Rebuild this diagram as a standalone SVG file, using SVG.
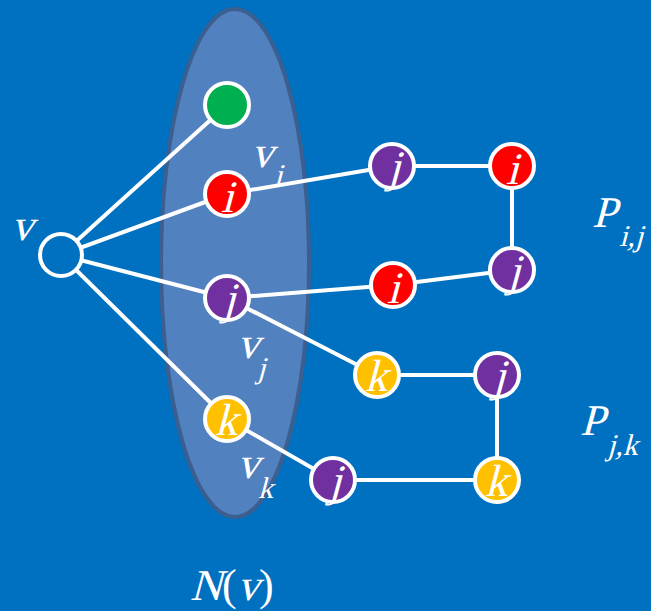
<svg xmlns="http://www.w3.org/2000/svg" width="651" height="611" viewBox="0 0 651 611">
<style>
.e{stroke:#fff;stroke-width:4;fill:none}
.n{stroke:#fff;stroke-width:4}
text{font-family:"Liberation Serif","Times New Roman",serif;fill:#fff}
.nl{font-size:45px;text-anchor:middle}
.big{font-size:44px}
.sub{font-size:30px}
</style>
<rect width="651" height="611" fill="#0070C0"/>
<ellipse id="Nv" cx="235" cy="263" rx="74" ry="254" fill="#5281C0" stroke="#3B5F8F" stroke-width="4"/>
<g id="connectors">
<line class="e" x1="61" y1="255" x2="227" y2="105"/>
<line class="e" x1="61" y1="255" x2="227" y2="194"/>
<line class="e" x1="61" y1="255" x2="227" y2="298"/>
<line class="e" x1="61" y1="255" x2="227" y2="419"/>
<line class="e" x1="227" y1="194" x2="392" y2="166"/>
<line class="e" x1="392" y1="166" x2="512" y2="166"/>
<line class="e" x1="512" y1="166" x2="512" y2="270"/>
<line class="e" x1="512" y1="270" x2="393" y2="285"/>
<line class="e" x1="393" y1="285" x2="227" y2="298"/>
<line class="e" x1="227" y1="298" x2="377" y2="375"/>
<line class="e" x1="377" y1="375" x2="497" y2="375"/>
<line class="e" x1="497" y1="375" x2="497" y2="480"/>
<line class="e" x1="497" y1="480" x2="333" y2="480"/>
<line class="e" x1="333" y1="480" x2="227" y2="419"/>
</g>
<g id="v"><circle class="n" cx="61" cy="255" r="21" fill="#0070C0"/></g>
<g id="g1"><circle class="n" cx="227" cy="105" r="22" fill="#00B050"/></g>
<g id="vi"><circle class="n" cx="227" cy="194" r="22" fill="#FF0000"/><text class="nl" transform="translate(227,212) skewX(-15)">i</text></g>
<g id="vj"><circle class="n" cx="227" cy="298" r="22" fill="#7030A0"/><text class="nl" transform="translate(229,314) skewX(-15)">j</text></g>
<g id="vk"><circle class="n" cx="227" cy="419" r="22" fill="#FFC000"/><text class="nl" transform="translate(226,435) skewX(-15)">k</text></g>
<g id="a1"><circle class="n" cx="392" cy="166" r="22" fill="#7030A0"/><text class="nl" transform="translate(394,182) skewX(-15)">j</text></g>
<g id="a2"><circle class="n" cx="512" cy="166" r="22" fill="#FF0000"/><text class="nl" transform="translate(512,184) skewX(-15)">i</text></g>
<g id="a3"><circle class="n" cx="512" cy="270" r="22" fill="#7030A0"/><text class="nl" transform="translate(514,286) skewX(-15)">j</text></g>
<g id="a4"><circle class="n" cx="393" cy="285" r="22" fill="#FF0000"/><text class="nl" transform="translate(393,303) skewX(-15)">i</text></g>
<g id="b1"><circle class="n" cx="377" cy="375" r="22" fill="#FFC000"/><text class="nl" transform="translate(376,391) skewX(-15)">k</text></g>
<g id="b2"><circle class="n" cx="497" cy="375" r="22" fill="#7030A0"/><text class="nl" transform="translate(499,391) skewX(-15)">j</text></g>
<g id="b3"><circle class="n" cx="497" cy="480" r="22" fill="#FFC000"/><text class="nl" transform="translate(496,496) skewX(-15)">k</text></g>
<g id="b4"><circle class="n" cx="333" cy="480" r="22" fill="#7030A0"/><text class="nl" transform="translate(335,496) skewX(-15)">j</text></g>
<g id="labels">
<text class="big" transform="translate(11,240) skewX(-15)">v</text>
<text class="big" transform="translate(251,167) skewX(-15)">v</text><text class="sub" transform="translate(274,185) skewX(-15)">i</text>
<text class="big" transform="translate(237,358) skewX(-15)">v</text><text class="sub" transform="translate(257,378) skewX(-15)">j</text>
<text class="big" transform="translate(237,478) skewX(-15)">v</text><text class="sub" transform="translate(258,498) skewX(-15)">k</text>
<text class="big" transform="translate(592,227) skewX(-15)">P</text><text class="sub" transform="translate(619,246) skewX(-15)">i,j</text>
<text class="big" transform="translate(580,435) skewX(-15)">P</text><text class="sub" transform="translate(607,455) skewX(-15)">j,k</text>
<text class="big" transform="translate(190,600) skewX(-15)">N</text>
<text class="big" x="222" y="600">(</text>
<text class="big" transform="translate(237,600) skewX(-15)">v</text>
<text class="big" x="259" y="600">)</text>
</g>
</svg>
